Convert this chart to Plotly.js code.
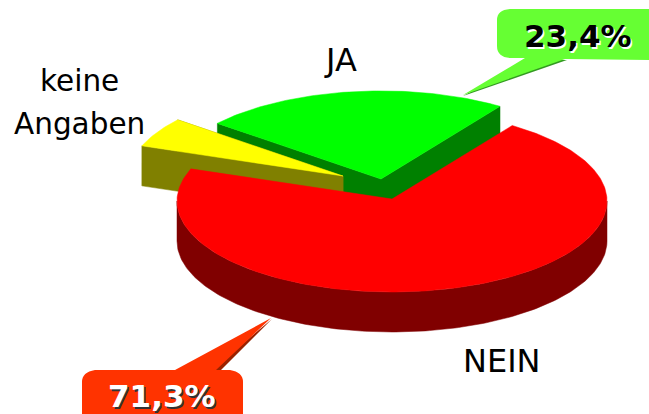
<!DOCTYPE html>
<html><head><meta charset="utf-8">
<script src="https://cdn.plot.ly/plotly-3.0.1.min.js"></script>
<style>html,body{margin:0;padding:0;background:#fff}#c{width:649px;height:414px}</style>
</head><body><div id="c"></div>
<script>
var categories = ["NEIN", "keine Angaben", "JA"];
var values = [71.3, 5.3, 23.4];
var topColors = ["#ff0000", "#ffff00", "#00ff00"];
var sideColors = ["#800000", "#808000", "#008000"];
var explodeX = [0, -49, -11];
var explodeY = [0, -23, -20];
var radiusScale = [1, 1, 0.99];
var startAngle = 34, cx = 392, cy = 199, rx = 215, ry = 91, arcDrop = 2, depth = 40;

function pt(i, deg) {
  var a = deg * Math.PI / 180, k = radiusScale[i];
  return [cx + explodeX[i] + rx * k * Math.sin(a), cy + arcDrop + explodeY[i] - ry * k * Math.cos(a)];
}
function apex(i) { return [cx + explodeX[i], cy + explodeY[i]]; }
function poly(p, color) {
  var xs = p.map(function (q) { return q[0]; }), ys = p.map(function (q) { return q[1]; });
  xs.push(xs[0]); ys.push(ys[0]);
  return { type: "scatter", mode: "lines", x: xs, y: ys, fill: "toself", fillcolor: color,
           line: { color: color, width: 0.5 }, hoverinfo: "skip", showlegend: false };
}
function down(q) { return [q[0], q[1] + depth]; }
var total = values.reduce(function (a, b) { return a + b; }, 0);
var spans = [], acc = startAngle;
values.forEach(function (v) { spans.push([acc, acc + v / total * 360]); acc += v / total * 360; });

function sliceTraces(i) {
  var s = spans[i][0], e = spans[i][1], out = [], arc = [], d, A = apex(i);
  for (d = s; d < e; d += 1) arc.push(pt(i, d));
  arc.push(pt(i, e));
  var front = [];
  for (d = 90; d <= 270; d += 1) if (d >= s && d <= e) front.push(pt(i, d));
  if (front.length) out.push(poly(front.concat(front.slice().reverse().map(down)), sideColors[i]));
  var P = pt(i, s), Q = pt(i, e);
  if (i !== 0) {
    out.push(poly([A, P, down(P), down(A)], sideColors[i]));
    out.push(poly([A, Q, down(Q), down(A)], sideColors[i]));
  }
  out.push(poly([A].concat(arc), topColors[i]));
  return out;
}
var traces = [].concat(sliceTraces(2), sliceTraces(1), sliceTraces(0));

function label(text, x, y, size) {
  return { text: text, x: x, y: y, xref: "x", yref: "y", showarrow: false,
           font: { family: "DejaVu Sans", size: size, color: "#000" },
           xanchor: "center", yanchor: "middle", align: "center" };
}
function badge(text, x, y, color, shadow) {
  return { text: "<b>" + text + "</b>", x: x, y: y, xref: "x", yref: "y", showarrow: false,
           xanchor: "center", yanchor: "middle",
           font: { family: "DejaVu Sans", size: 31, color: color, shadow: shadow } };
}
function shape(path, color) {
  return { type: "path", path: path, xref: "x", yref: "y", layer: "below", fillcolor: color, line: { width: 0 } };
}
var layout = {
  width: 649, height: 414, margin: { l: 0, r: 0, t: 0, b: 0, pad: 0 },
  paper_bgcolor: "#fff", plot_bgcolor: "#fff", showlegend: false,
  xaxis: { range: [0, 649], visible: false, fixedrange: true },
  yaxis: { range: [414, 0], visible: false, fixedrange: true },
  shapes: [
    shape("M 463 96 L 567 60 L 530 60 Z", "#339922"),
    shape("M 505 9 L 660 9 L 660 60 L 565 59 L 463 95 L 525 58 L 510 58 Q 497 57 497 46 L 497 20 Q 497 10 510 9 Z", "#66ff33"),
    shape("M 272 319 L 220 371 L 210 371 Z", "#992200"),
    shape("M 95 370 L 175 370 L 271 318 L 216 370 L 230 370 Q 243 372 243 382 L 243 420 L 82 420 L 82 382 Q 82 372 95 370 Z", "#ff3300")
  ],
  annotations: [
    label("JA", 340, 60, 32),
    label("keine", 79, 81, 29.5),
    label("Angaben", 79, 124, 29.5),
    label("NEIN", 502, 361, 32),
    badge("23,4%", 578, 36, "#000", "1.5px 1.5px 0 #fff"),
    badge("71,3%", 162, 396, "#fff", "1.5px 1.5px 0 #333")
  ]
};
Plotly.newPlot("c", traces, layout, { displayModeBar: false, staticPlot: true });
</script></body></html>
